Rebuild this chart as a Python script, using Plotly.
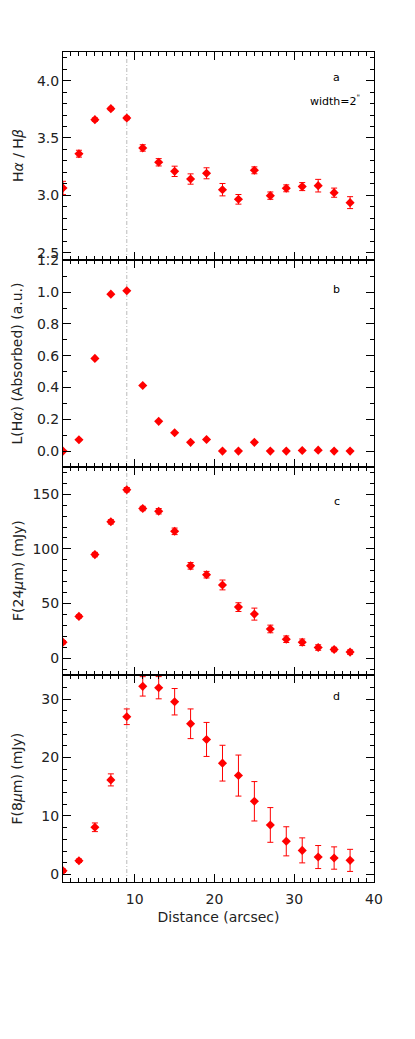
import plotly.graph_objects as go
from plotly.subplots import make_subplots

distance = [1, 3, 5, 7, 9, 11, 13, 15, 17, 19, 21, 23, 25, 27, 29, 31, 33, 35, 37]

ha_hb = [3.064, 3.363, 3.660, 3.756, 3.674, 3.413, 3.288, 3.209, 3.142, 3.192,
         3.049, 2.965, 3.218, 2.997, 3.061, 3.076, 3.084, 3.023, 2.936]
ha_hb_err = [0.058, 0.030, 0.015, 0.012, 0.015, 0.028, 0.032, 0.045, 0.045, 0.048,
             0.054, 0.042, 0.030, 0.032, 0.030, 0.035, 0.055, 0.040, 0.052]

l_ha_abs = [0.0, 0.071, 0.583, 0.987, 1.008, 0.413, 0.187, 0.115, 0.055, 0.073,
            0.0, 0.0, 0.055, 0.0, 0.0, 0.004, 0.006, 0.0, 0.0]

f24 = [14.5, 38.2, 94.8, 124.8, 154.2, 137.0, 134.5, 116.1, 84.5, 76.4,
       67.0, 46.7, 40.3, 26.7, 17.3, 14.5, 9.7, 7.9, 5.5]
f24_err = [1.5, 1.5, 2.0, 2.0, 2.0, 2.0, 2.5, 3.0, 3.0, 3.0,
           4.5, 4.0, 5.5, 3.5, 3.0, 3.0, 2.5, 2.0, 2.0]

f8 = [0.63, 2.34, 8.06, 16.17, 26.97, 32.17, 31.94, 29.54, 25.77, 23.09,
      19.03, 16.91, 12.51, 8.46, 5.66, 4.11, 2.97, 2.80, 2.40]
f8_err = [0.3, 0.3, 0.74, 1.03, 1.34, 1.66, 1.90, 2.26, 2.54, 2.91,
          3.06, 3.51, 3.37, 2.97, 2.49, 2.14, 1.97, 1.91, 1.89]

x_ticks = [10, 20, 30, 40]
x_range = [1, 40]
peak_distance = 9

panel_labels = ["a", "b", "c", "d"]
y_titles = ["H<i>α</i> / H<i>β</i>", "L(H<i>α</i>) (Absorbed) (a.u.)",
            "F(24<i>μ</i>m) (mJy)", "F(8<i>μ</i>m) (mJy)"]
y_ranges = [[2.44, 4.25], [-0.1, 1.205], [-15, 175], [-1.3, 34.2]]
y_dticks = [0.5, 0.2, 50, 10]
y_minor = [0.1, 0.1, 10, 2]
y_formats = [".1f", ".1f", "d", "d"]

FONT = "DejaVu Sans"
RED = "#ff0000"

fig = make_subplots(rows=4, cols=1, shared_xaxes=True, vertical_spacing=0)

series = [(ha_hb, ha_hb_err), (l_ha_abs, None), (f24, f24_err), (f8, f8_err)]
for i, (vals, errs) in enumerate(series):
    tr = go.Scatter(
        x=distance, y=vals, mode="markers",
        marker=dict(symbol="diamond", size=7, color=RED, line=dict(width=0)),
        showlegend=False,
    )
    if errs is not None:
        tr.error_y = dict(type="data", array=errs, visible=True, color=RED,
                          thickness=1, width=3)
    fig.add_trace(tr, row=i + 1, col=1)

for i in range(4):
    fig.update_yaxes(
        row=i + 1, col=1,
        range=y_ranges[i], dtick=y_dticks[i], tick0=0, tickformat=y_formats[i],
        ticks="inside", ticklen=8, tickwidth=1, tickcolor="black",
        minor=dict(ticks="inside", dtick=y_minor[i], ticklen=4, tickcolor="black", tickwidth=1),
        showline=True, linecolor="black", linewidth=1, mirror="allticks",
        showgrid=False, zeroline=False,
        tickfont=dict(family=FONT, size=14, color="#222222"),
    )
    fig.update_xaxes(
        row=i + 1, col=1,
        range=x_range, tickvals=x_ticks,
        ticks="inside", ticklen=8, tickwidth=1, tickcolor="black",
        minor=dict(ticks="inside", dtick=1, tick0=0, ticklen=4, tickcolor="black", tickwidth=1),
        showline=True, linecolor="black", linewidth=1, mirror="allticks",
        showgrid=False, zeroline=False,
        showticklabels=(i == 3),
        tickfont=dict(family=FONT, size=14, color="#222222"),
    )

fig.update_xaxes(row=4, col=1, ticklabelstandoff=4,
                 title=dict(text="Distance (arcsec)", font=dict(family=FONT, size=14, color="#222222"),
                            standoff=6))

fig.add_shape(type="line", xref="x4", yref="paper", x0=peak_distance, x1=peak_distance,
              y0=0, y1=1, line=dict(color="#bbbbbb", width=1, dash="4px,2px,1px,2px"),
              layer="below")

# panel centres in paper coords
centers = [0.875, 0.625, 0.375, 0.125]
for i in range(4):
    fig.add_annotation(xref="paper", yref="paper", x=-0.147, y=centers[i],
                       text=y_titles[i], textangle=-90, showarrow=False,
                       xanchor="center", yanchor="middle",
                       font=dict(family=FONT, size=14, color="#222222"))

label_y = [0.9687, 0.7144, 0.4582, 0.2235]
for i in range(4):
    fig.add_annotation(xref="paper", yref="paper", x=0.88, y=label_y[i],
                       text=panel_labels[i], showarrow=False,
                       xanchor="center", yanchor="middle",
                       font=dict(family=FONT, size=11, color="black"))
fig.add_annotation(xref="paper", yref="paper", x=0.875, y=0.9418,
                   text="width=2<sup>\"</sup>", showarrow=False,
                   xanchor="center", yanchor="middle",
                   font=dict(family=FONT, size=11, color="black"))

# page body has an 8px default margin; offset the plot margins to compensate
fig.update_layout(
    width=415, height=1039,
    margin=dict(l=54.5, r=48.5, t=43.7, b=164.7, autoexpand=False),
    paper_bgcolor="white", plot_bgcolor="white",
    font=dict(family=FONT, size=14, color="#222222"),
)

fig.write_html("out.html")
